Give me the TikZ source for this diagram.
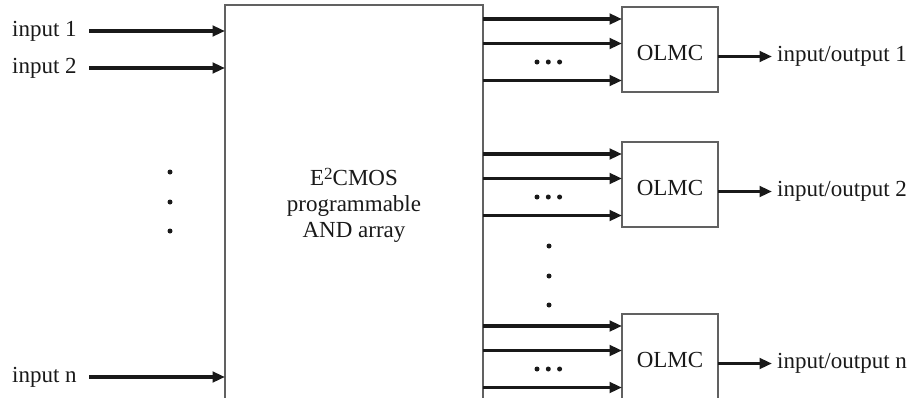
\documentclass[tikz,border=0pt]{standalone}
\usepackage{fontspec}
\setmainfont{Liberation Serif}
\usetikzlibrary{arrows.meta,calc}
\begin{document}
\begin{tikzpicture}[x=1pt,y=-1pt,
  txt/.style={font=\fontsize{23}{26}\selectfont, inner sep=0pt, text=black!90},
  blk/.style={draw=black!62, line width=1.6pt, inner sep=0pt, outer sep=0pt},
  sig/.style={draw=black!90, line width=3.4pt, -{Triangle[length=12.5pt,width=10.5pt]}},
  dotc/.style={fill=black!90, draw=none, circle, minimum size=5pt, inner sep=0pt}]
\useasboundingbox (0,0) rectangle (913,397);
\clip (0,0) rectangle (913,397);

% programmable array (open at the bottom: it runs past the picture edge)
\node[blk, minimum width=258pt, minimum height=425pt] (arr) at (354,217.5) {};
\node[txt, align=center] (arrt) at (354,205) {E\raisebox{6pt}{\fontsize{17}{17}\selectfont 2}CMOS\\programmable\\AND array};

% inputs
\node[txt, anchor=west] (in1) at (12,31) {input 1};
\node[txt, anchor=west] (in2) at (12,68) {input 2};
\node[txt, anchor=west] (inn) at (12,377) {input n};
\coordinate (s1) at (89,31);
\coordinate (s2) at (89,68);
\coordinate (sn) at (89,377);
\draw[sig] (s1) -- (s1 -| arr.west);
\draw[sig] (s2) -- (s2 -| arr.west);
\draw[sig] (sn) -- (sn -| arr.west);
\node[dotc] (ld1) at (170,172) {};
\node[dotc] (ld2) at (170,202) {};
\node[dotc] (ld3) at (170,231) {};

% OLMC blocks
\foreach \k/\t/\lab in {1/7/1, 2/142/2, 3/314/n}{
  \node[blk, minimum width=96pt, minimum height=85pt] (o\k) at (670,\t+42.5) {};
  \node[txt] (ot\k) at (670,\t+46) {OLMC};
  \coordinate (a\k a) at (483,\t+12);
  \coordinate (a\k b) at (483,\t+36.5);
  \coordinate (a\k c) at (483,\t+73.5);
  \draw[sig] (a\k a) -- (a\k a -| o\k.west);
  \draw[sig] (a\k b) -- (a\k b -| o\k.west);
  \draw[sig] (a\k c) -- (a\k c -| o\k.west);
  \node[dotc] (h\k a) at (537,\t+55) {};
  \node[dotc] (h\k b) at (548.3,\t+55) {};
  \node[dotc] (h\k c) at (559.6,\t+55) {};
  \node[txt, anchor=west] (io\k) at (777,\t+49.5) {input/output \lab};
  \coordinate (e\k) at (718,\t+49.5);
  \draw[sig] (e\k) -- ($(io\k.west)+(-5,0)$);
}
\node[dotc] (vd1) at (549,246) {};
\node[dotc] (vd2) at (549,276) {};
\node[dotc] (vd3) at (549,305) {};
\end{tikzpicture}
\end{document}
